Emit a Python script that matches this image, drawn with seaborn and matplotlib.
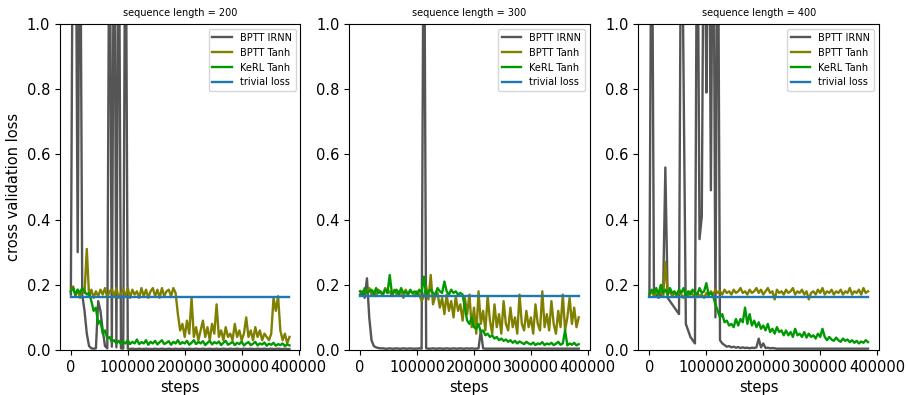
import numpy as np
import pandas as pd
import matplotlib
matplotlib.use("Agg")
import matplotlib.pyplot as plt
import seaborn as sns

# training steps (shared x grid for every run)
steps = np.arange(0, 388000, 4000)

seq_lengths = [200, 300, 400]
labels = ["BPTT IRNN", "BPTT Tanh", "KeRL Tanh", "trivial loss"]
colors = ["#555555", "#808000", "#009a00", "#1f77b4"]
trivial = [0.164, 0.165, 0.164]

# ---- sequence length = 200
p200_irnn = [0.17, 1.6, 1.6, 0.30, 1.6, 0.17, 0.12, 0.05, 0.012, 0.005, 0.004, 0.005,
             0.15, 0.12, 0.06, 0.012, 0.005, 1.6, 0.01, 1.6, 0.008, 1.6, 0.005, 0.004,
             1.6, 0.004, 0.003, 0.004, 0.003, 0.003, 0.004, 0.003, 0.003, 0.004, 0.003, 0.003,
             0.003, 0.004, 0.003, 0.003, 0.004, 0.003, 0.003, 0.004, 0.003, 0.003, 0.004, 0.003,
             0.003, 0.004, 0.003, 0.003, 0.004, 0.003, 0.003, 0.004, 0.003, 0.003, 0.004, 0.003,
             0.003, 0.004, 0.003, 0.003, 0.004, 0.003, 0.003, 0.004, 0.003, 0.003, 0.004, 0.003,
             0.003, 0.004, 0.003, 0.003, 0.004, 0.003, 0.003, 0.004, 0.003, 0.003, 0.004, 0.003,
             0.003, 0.004, 0.003, 0.003, 0.004, 0.003, 0.003, 0.004, 0.003, 0.003, 0.004, 0.003, 0.003]
p200_tanh = [0.18, 0.195, 0.165, 0.185, 0.16, 0.19, 0.175, 0.31, 0.165, 0.185, 0.16, 0.18,
             0.165, 0.185, 0.17, 0.19, 0.16, 0.18, 0.185, 0.165, 0.19, 0.16, 0.175, 0.185,
             0.165, 0.19, 0.16, 0.185, 0.17, 0.18, 0.16, 0.19, 0.165, 0.185, 0.16, 0.18,
             0.19, 0.165, 0.185, 0.16, 0.19, 0.165, 0.18, 0.185, 0.165, 0.19, 0.175, 0.11,
             0.06, 0.08, 0.04, 0.09, 0.05, 0.16, 0.04, 0.07, 0.03, 0.06, 0.09, 0.04,
             0.07, 0.03, 0.08, 0.05, 0.14, 0.04, 0.06, 0.03, 0.07, 0.04, 0.05, 0.03,
             0.08, 0.04, 0.06, 0.03, 0.05, 0.10, 0.04, 0.06, 0.03, 0.07, 0.04, 0.06,
             0.03, 0.05, 0.04, 0.03, 0.05, 0.16, 0.12, 0.165, 0.06, 0.03, 0.05, 0.02, 0.04]
p200_kerl = [0.18, 0.19, 0.17, 0.185, 0.175, 0.19, 0.18, 0.17, 0.175, 0.15, 0.12, 0.13,
             0.08, 0.09, 0.05, 0.06, 0.035, 0.04, 0.025, 0.03, 0.02, 0.028, 0.018, 0.025,
             0.02, 0.03, 0.018, 0.025, 0.02, 0.032, 0.018, 0.024, 0.02, 0.03, 0.016, 0.025,
             0.02, 0.028, 0.017, 0.024, 0.03, 0.018, 0.022, 0.027, 0.016, 0.025, 0.02, 0.03,
             0.018, 0.024, 0.02, 0.028, 0.016, 0.022, 0.03, 0.018, 0.025, 0.02, 0.027, 0.015,
             0.022, 0.028, 0.017, 0.024, 0.02, 0.026, 0.015, 0.022, 0.028, 0.016, 0.02, 0.025,
             0.015, 0.022, 0.018, 0.026, 0.014, 0.02, 0.024, 0.015, 0.019, 0.025, 0.014, 0.02,
             0.017, 0.023, 0.013, 0.019, 0.016, 0.022, 0.013, 0.018, 0.015, 0.02, 0.012, 0.017, 0.014]

# ---- sequence length = 300
p300_irnn = [0.17, 0.18, 0.16, 0.22, 0.10, 0.03, 0.012, 0.008, 0.006, 0.005, 0.005, 0.004,
             0.004, 0.005, 0.004, 0.004, 0.005, 0.004, 0.004, 0.005, 0.004, 0.004, 0.005, 0.004,
             0.004, 0.004, 0.005, 0.004, 1.6, 0.005, 0.004, 0.004, 0.005, 0.004, 0.004, 0.005,
             0.004, 0.004, 0.005, 0.004, 0.004, 0.005, 0.004, 0.004, 0.005, 0.004, 0.004, 0.005,
             0.004, 0.005, 0.004, 0.004, 0.005, 0.06, 0.005, 0.004, 0.004, 0.004, 0.004, 0.004,
             0.004, 0.004, 0.004, 0.004, 0.004, 0.004, 0.004, 0.004, 0.004, 0.004, 0.004, 0.004,
             0.004, 0.004, 0.004, 0.004, 0.004, 0.004, 0.004, 0.004, 0.004, 0.004, 0.004, 0.004,
             0.004, 0.004, 0.004, 0.004, 0.004, 0.004, 0.004, 0.004, 0.004, 0.004, 0.004, 0.004, 0.004]
p300_tanh = [0.18, 0.17, 0.185, 0.175, 0.19, 0.17, 0.18, 0.165, 0.185, 0.175, 0.17, 0.19,
             0.175, 0.18, 0.165, 0.185, 0.17, 0.18, 0.175, 0.16, 0.185, 0.17, 0.18, 0.175,
             0.165, 0.18, 0.17, 0.15, 0.165, 0.195, 0.155, 0.23, 0.14, 0.165, 0.175, 0.13,
             0.16, 0.11, 0.17, 0.12, 0.15, 0.10, 0.165, 0.12, 0.14, 0.09, 0.16, 0.11,
             0.17, 0.07, 0.13, 0.05, 0.18, 0.08, 0.12, 0.06, 0.165, 0.09, 0.05, 0.14,
             0.07, 0.11, 0.05, 0.15, 0.08, 0.06, 0.13, 0.07, 0.10, 0.05, 0.17, 0.08,
             0.06, 0.12, 0.07, 0.10, 0.05, 0.14, 0.08, 0.06, 0.18, 0.07, 0.11, 0.06,
             0.15, 0.08, 0.05, 0.12, 0.07, 0.17, 0.06, 0.10, 0.16, 0.08, 0.13, 0.07, 0.10]
p300_kerl = [0.18, 0.17, 0.19, 0.175, 0.18, 0.185, 0.17, 0.19, 0.175, 0.18, 0.17, 0.185,
             0.175, 0.23, 0.17, 0.18, 0.185, 0.17, 0.19, 0.175, 0.18, 0.17, 0.185, 0.175,
             0.18, 0.17, 0.185, 0.175, 0.225, 0.17, 0.18, 0.185, 0.175, 0.17, 0.19, 0.18,
             0.175, 0.21, 0.18, 0.17, 0.185, 0.175, 0.18, 0.17, 0.175, 0.17, 0.13, 0.09,
             0.08, 0.10, 0.07, 0.065, 0.08, 0.055, 0.06, 0.045, 0.05, 0.04, 0.045, 0.035,
             0.04, 0.03, 0.035, 0.028, 0.032, 0.025, 0.03, 0.022, 0.028, 0.02, 0.026, 0.022,
             0.018, 0.025, 0.02, 0.017, 0.023, 0.015, 0.02, 0.018, 0.024, 0.015, 0.02, 0.017,
             0.022, 0.015, 0.019, 0.025, 0.016, 0.02, 0.06, 0.014, 0.02, 0.016, 0.022, 0.014, 0.018]

# ---- sequence length = 400
p400_irnn = [0.17, 1.6, 0.17, 0.17, 0.16, 0.17, 0.165, 0.56, 0.16, 0.15, 0.14, 0.13,
             0.12, 0.11, 1.6, 0.84, 0.08, 0.06, 0.04, 0.03, 0.02, 1.6, 0.34, 0.41,
             1.6, 0.79, 1.6, 0.49, 1.6, 0.10, 1.6, 0.03, 0.02, 0.015, 0.01, 0.012,
             0.008, 0.01, 0.007, 0.009, 0.006, 0.008, 0.006, 0.007, 0.005, 0.007, 0.006, 0.008,
             0.035, 0.008, 0.02, 0.006, 0.007, 0.005, 0.006, 0.005, 0.004, 0.004, 0.004, 0.004,
             0.004, 0.004, 0.004, 0.004, 0.004, 0.004, 0.004, 0.004, 0.004, 0.004, 0.004, 0.004,
             0.004, 0.004, 0.004, 0.004, 0.004, 0.004, 0.004, 0.004, 0.004, 0.004, 0.004, 0.004,
             0.004, 0.004, 0.004, 0.004, 0.004, 0.004, 0.004, 0.004, 0.004, 0.004, 0.004, 0.004, 0.004]
p400_tanh = [0.17, 0.18, 0.165, 0.185, 0.17, 0.18, 0.165, 0.27, 0.17, 0.18, 0.165, 0.175,
             0.165, 0.18, 0.17, 0.16, 0.175, 0.165, 0.18, 0.17, 0.16, 0.175, 0.165, 0.17,
             0.16, 0.175, 0.165, 0.18, 0.17, 0.185, 0.175, 0.18, 0.17, 0.185, 0.175, 0.18,
             0.17, 0.185, 0.175, 0.18, 0.19, 0.175, 0.18, 0.17, 0.185, 0.175, 0.18, 0.19,
             0.175, 0.185, 0.17, 0.18, 0.19, 0.175, 0.18, 0.155, 0.185, 0.175, 0.18, 0.17,
             0.185, 0.175, 0.18, 0.19, 0.17, 0.18, 0.175, 0.185, 0.17, 0.18, 0.155, 0.175,
             0.18, 0.17, 0.185, 0.175, 0.19, 0.17, 0.18, 0.175, 0.185, 0.17, 0.18, 0.175,
             0.185, 0.17, 0.18, 0.175, 0.19, 0.17, 0.18, 0.175, 0.185, 0.17, 0.19, 0.175, 0.18]
p400_kerl = [0.17, 0.185, 0.175, 0.19, 0.17, 0.2, 0.175, 0.185, 0.17, 0.19, 0.175, 0.18,
             0.17, 0.185, 0.175, 0.19, 0.165, 0.18, 0.17, 0.185, 0.175, 0.17, 0.19, 0.175,
             0.18, 0.205, 0.17, 0.175, 0.165, 0.14, 0.12, 0.10, 0.11, 0.085, 0.09, 0.075,
             0.08, 0.07, 0.095, 0.075, 0.095, 0.085, 0.13, 0.08, 0.11, 0.075, 0.09, 0.07,
             0.085, 0.065, 0.075, 0.06, 0.08, 0.055, 0.065, 0.05, 0.07, 0.055, 0.06, 0.045,
             0.06, 0.045, 0.055, 0.04, 0.065, 0.045, 0.05, 0.04, 0.055, 0.038, 0.05, 0.04,
             0.045, 0.035, 0.05, 0.04, 0.065, 0.04, 0.03, 0.04, 0.032, 0.028, 0.038, 0.03,
             0.025, 0.035, 0.028, 0.032, 0.024, 0.03, 0.022, 0.028, 0.02, 0.026, 0.022, 0.03, 0.024]

runs = [
    [p200_irnn, p200_tanh, p200_kerl],
    [p300_irnn, p300_tanh, p300_kerl],
    [p400_irnn, p400_tanh, p400_kerl],
]

fig, axes = plt.subplots(1, 3, figsize=(9.08, 3.95), dpi=100)
fig.subplots_adjust(left=0.066, right=0.968, bottom=0.114, top=0.939, wspace=0.203)

for i, ax in enumerate(axes):
    series = runs[i] + [np.full(len(steps), trivial[i])]
    for vals, lab, col in zip(series, labels, colors):
        sns.lineplot(x=steps, y=vals, ax=ax, color=col, label=lab, linewidth=1.7)
    ax.set_ylim(0, 1.0)
    ax.set_title("sequence length = %d" % seq_lengths[i], fontsize=7)
    ax.set_xlabel("steps", fontsize=10.5)
    ax.set_ylabel("cross validation loss" if i == 0 else "", fontsize=10.5)
    ax.tick_params(labelsize=10.5)
    ax.legend(loc="upper right", fontsize=7)

fig.savefig("out.png", dpi=100)
